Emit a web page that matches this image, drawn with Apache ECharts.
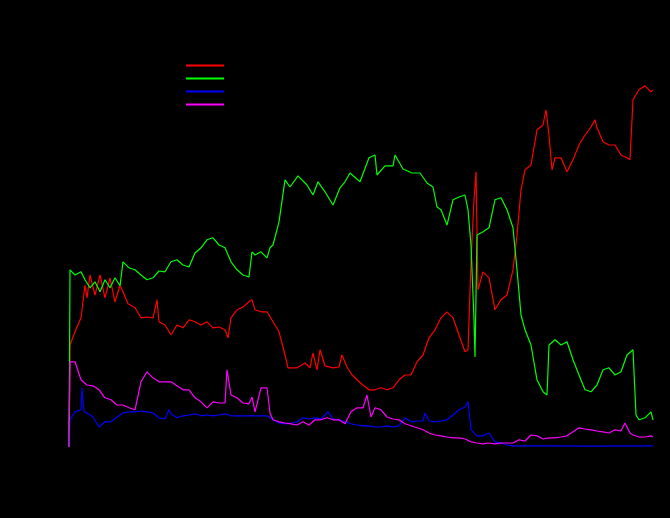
<!DOCTYPE html>
<html>
<head>
<meta charset="utf-8">
<script src="https://cdn.jsdelivr.net/npm/echarts@6/dist/echarts.min.js"></script>
<style>html,body{margin:0;padding:0;background:#000;}#chart{width:670px;height:518px;}</style>
</head>
<body>
<div id="chart"></div>
<script>
// [day, value] pairs
const seriesNames = ['Series 1', 'Series 2', 'Series 3', 'Series 4'];

const redData = [[0,0],[1,25.5],[6,28.8],[12,32.3],[16,40.5],[18,37.3],[21,43],[26,38],[31,43],[36,37.3],[41,42.3],[46,36.3],[51,40.5],[54,38.8],[59,35.8],[66,34.8],[72,32.3],[78,32.5],[84,32.3],[88,36.8],[90,31.3],[96,30.5],[102,28],[108,30.5],[114,29.8],[120,31.8],[126,31.3],[132,30.5],[138,31.3],[144,29.8],[150,30],[156,29.3],[159,27.3],[162,32.3],[168,34.3],[174,35],[180,36.3],[183,36.8],[186,34.3],[192,33.8],[198,33.8],[204,31.3],[210,28.8],[216,23],[219,19.8],[228,19.8],[236,21],[241,19.8],[244,23.5],[248,19.3],[251,24.3],[256,20.3],[264,19.8],[270,20],[273,23],[278,20],[283,18],[288,16.8],[294,15.5],[300,14.3],[306,14.3],[312,14.8],[318,14.3],[324,14.8],[330,16.8],[336,18],[342,18],[348,21.3],[354,23],[360,27.3],[366,29.3],[372,32.3],[378,33.8],[384,32.3],[390,28],[396,23.8],[399,24.3],[402,46.3],[405,61.8],[407,68.8],[409,39.3],[414,43.8],[420,42.3],[426,34.3],[432,36.8],[438,38],[444,44.3],[448,53],[452,64.3],[456,69.3],[462,70.5],[468,79.3],[474,80.5],[477,84.3],[480,78],[483,69.3],[486,72.3],[492,72.3],[498,68.8],[504,71.8],[510,75.5],[516,78],[522,80],[526,81.8],[528,79.8],[534,76.3],[540,75.5],[546,75.5],[552,73],[558,72.3],[561,71.8],[564,86.8],[570,89.3],[576,90.3],[582,88.8],[584,89.3]];

const greenData = [[0,0],[1,44.3],[6,43],[12,43.8],[16,41.8],[21,39.8],[26,41.3],[31,38.8],[36,41.8],[41,39.8],[46,42.3],[51,40.3],[54,46.3],[60,44.8],[66,44.3],[72,43],[78,41.8],[84,42.3],[90,44],[96,43.8],[102,46.3],[108,46.8],[114,45.5],[120,45],[126,48.5],[132,49.8],[138,51.8],[144,52.3],[150,50.5],[156,49.8],[162,46.3],[168,44.3],[174,43],[180,42.5],[183,48.8],[186,48],[192,48.8],[198,47.3],[201,49.8],[204,50.5],[210,56.3],[216,66.8],[221,65],[229,67.8],[238,65.5],[244,63],[249,66.3],[256,63.8],[264,60.5],[271,64.8],[276,66.3],[281,68.5],[291,66.3],[300,72.3],[306,73],[308,68],[316,70.3],[324,70.3],[326,73],[334,69.5],[343,68.5],[351,68.5],[358,66],[364,65],[368,60],[372,59.3],[378,55.5],[384,61.8],[390,62.5],[396,63],[399,59.3],[402,50.5],[405,31.8],[406,22.5],[408,53],[414,53.8],[420,54.8],[426,61.8],[432,62.3],[438,59.3],[444,54.8],[448,44.3],[452,33],[456,29.3],[462,25.5],[468,16.8],[474,13.8],[478,13],[480,25.5],[486,26.8],[492,25.5],[498,26.3],[504,21.8],[510,18],[516,14.3],[522,13.8],[528,15.5],[534,19.3],[540,19.8],[546,18],[552,18.8],[558,23],[564,24.3],[567,8],[570,6.8],[576,7.3],[582,8.8],[584,6.8]];

const blueData = [[0,0],[1,6.8],[6,8.8],[12,9.3],[13,14.8],[15,8.8],[18,8.5],[24,7.5],[30,5],[36,6.3],[42,6.3],[48,7.5],[54,8.5],[60,8.8],[66,8.8],[72,9],[78,8.8],[84,8.5],[90,7.3],[96,7],[100,9.3],[102,8.3],[108,7.3],[114,7.8],[120,8],[126,8.3],[132,7.8],[138,8],[144,7.8],[150,8],[156,8.3],[162,7.8],[168,7.8],[174,7.8],[180,7.8],[186,7.8],[192,7.8],[198,7.8],[204,6.8],[210,6],[216,5.8],[222,6],[228,6.3],[234,7.3],[240,7],[246,7.3],[252,7],[259,8.8],[264,7],[270,6.8],[276,6.3],[282,5.8],[288,5.5],[294,5.3],[300,5.3],[306,5],[312,5],[318,5.3],[324,5],[330,5.3],[336,7.3],[342,6.3],[348,6.5],[354,6.5],[356,8.5],[360,6.5],[366,6.3],[372,6.5],[378,6.8],[384,8],[390,9.3],[396,10],[399,11.3],[402,4.3],[408,2.8],[414,2.8],[420,3.5],[426,1.3],[432,1],[438,0.5],[444,0.3],[480,0.3],[520,0.2],[584,0.3]];

const magentaData = [[0,0],[1,21.3],[6,21.3],[12,16.8],[18,15.5],[24,15.3],[30,14.3],[36,12.3],[42,11.8],[48,10.5],[54,10.5],[60,9.8],[66,9.3],[72,16.3],[78,18.8],[84,17.3],[90,16.3],[96,16.3],[102,16.3],[108,15.3],[114,14.3],[120,14.3],[126,12.3],[132,11.3],[138,9.8],[144,11.3],[150,11],[156,11],[158,19.3],[162,13],[168,12.3],[174,11],[180,10.8],[183,12.5],[186,8.8],[192,14.8],[198,14.8],[201,8.5],[204,6.8],[210,6.3],[216,6],[222,5.8],[228,5.5],[234,6.3],[240,5.5],[246,6.8],[252,6.8],[258,7.3],[264,6.8],[270,6.8],[276,5.8],[282,8.8],[288,9.8],[294,9.8],[298,13],[302,7.5],[306,9.8],[312,9.3],[318,7.5],[324,7],[330,6.8],[336,5.8],[342,5.3],[348,4.8],[354,4.3],[360,3.5],[366,3],[372,2.8],[378,2.5],[384,2.3],[390,2.3],[396,2],[402,1.3],[408,1],[414,0.8],[420,1],[426,0.8],[432,1],[438,1],[444,1],[450,1.8],[456,1.5],[462,3],[468,2.8],[474,2],[480,2.3],[486,2.3],[492,2.5],[498,2.8],[504,3.8],[510,4.8],[516,4.5],[522,4.3],[528,4],[534,3.8],[540,3.5],[546,4.3],[552,4],[556,6],[561,3.5],[564,3],[570,2.5],[576,2.5],[582,2.8],[584,2.5]];

const colors = ['#ff0000', '#00ff00', '#0000ff', '#ff00ff'];
const allData = [redData, greenData, blueData, magentaData];

const chart = echarts.init(document.getElementById('chart'), null, {renderer: 'canvas'});
chart.setOption({
  backgroundColor: '#000000',
  animation: false,
  legend: {
    orient: 'vertical',
    left: 186,
    top: 60,
    padding: 0,
    itemWidth: 38,
    itemHeight: 2,
    itemGap: 2,
    icon: 'rect',
    textStyle: {color: '#000000', fontSize: 10, lineHeight: 11},
    data: seriesNames
  },
  grid: {left: 69, right: 17, top: 47, bottom: 71, containLabel: false},
  xAxis: {
    type: 'value', min: 0, max: 584,
    axisLine: {lineStyle: {color: '#000000'}},
    axisTick: {lineStyle: {color: '#000000'}},
    axisLabel: {color: '#000000'},
    splitLine: {show: false}
  },
  yAxis: {
    type: 'value', min: 0, max: 100,
    axisLine: {show: true, lineStyle: {color: '#000000'}},
    axisTick: {show: true, lineStyle: {color: '#000000'}},
    axisLabel: {color: '#000000'},
    splitLine: {show: false}
  },
  series: seriesNames.map((n, i) => ({
    name: n,
    type: 'line',
    data: allData[i],
    showSymbol: false,
    symbol: 'none',
    lineStyle: {color: colors[i], width: 1.2},
    itemStyle: {color: colors[i]}
  }))
});
</script>
</body>
</html>
